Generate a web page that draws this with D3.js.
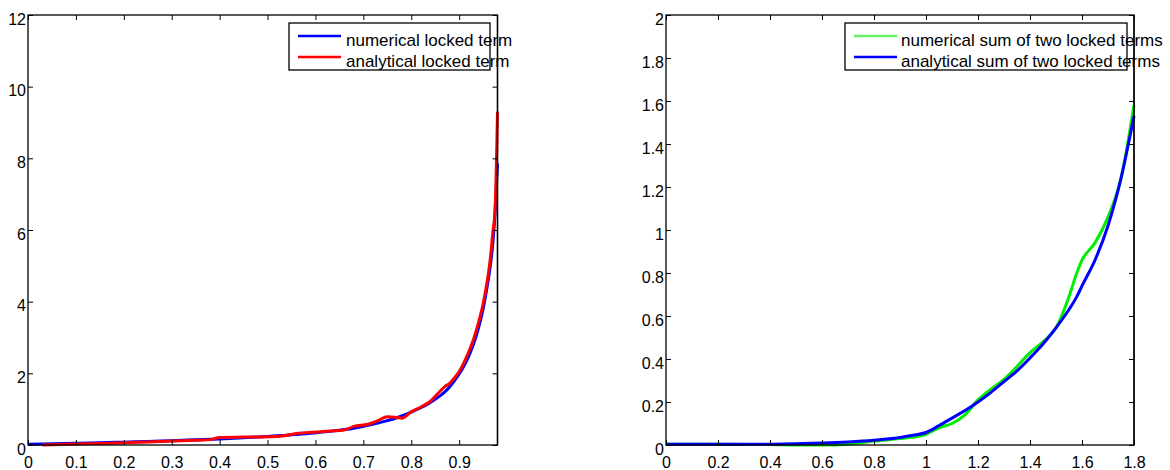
<!DOCTYPE html>
<html><head><meta charset="utf-8">
<script src="https://cdn.jsdelivr.net/npm/d3@7/dist/d3.min.js"></script>
<style>body{margin:0;background:#fff}svg{display:block}</style>
</head><body>
<svg id="c" width="1170" height="470"></svg>
<script>
// ---- data ----
const leftX = [0, 0.03, 0.1, 0.15, 0.2, 0.25, 0.3, 0.35, 0.38, 0.4, 0.45, 0.5, 0.53, 0.56, 0.6, 0.63, 0.66, 0.68, 0.71, 0.73, 0.75, 0.77, 0.78, 0.8, 0.82, 0.84, 0.86, 0.87, 0.88, 0.89, 0.9, 0.91, 0.92, 0.93, 0.94, 0.95, 0.96, 0.965, 0.97, 0.975, 0.98];
const numericalLocked = [0.02, 0.03, 0.05, 0.065, 0.08, 0.10, 0.12, 0.145, 0.16, 0.17, 0.20, 0.24, 0.265, 0.29, 0.34, 0.38, 0.43, 0.47, 0.55, 0.61, 0.68, 0.76, 0.81, 0.92, 1.04, 1.19, 1.37, 1.48, 1.62, 1.79, 1.98, 2.2, 2.48, 2.82, 3.25, 3.8, 4.55, 5.0, 5.6, 6.5, 7.86];
const analyticalLocked = [null, 0.0, 0.03, 0.045, 0.06, 0.085, 0.11, 0.13, 0.15, 0.21, 0.22, 0.23, 0.25, 0.32, 0.36, 0.39, 0.42, 0.52, 0.58, 0.68, 0.79, 0.77, 0.75, 0.93, 1.06, 1.22, 1.5, 1.63, 1.72, 1.87, 2.05, 2.3, 2.6, 2.95, 3.4, 3.94, 4.7, 5.2, 5.9, 6.6, 9.3];
const leftXTicks = [0, 0.1, 0.2, 0.3, 0.4, 0.5, 0.6, 0.7, 0.8, 0.9];
const leftYTicks = [0, 2, 4, 6, 8, 10, 12];

const rightX = [0, 0.2, 0.4, 0.5, 0.6, 0.7, 0.8, 0.9, 0.95, 1.0, 1.05, 1.1, 1.15, 1.2, 1.25, 1.3, 1.35, 1.4, 1.45, 1.5, 1.55, 1.58, 1.6, 1.65, 1.7, 1.75, 1.8];
const numericalSum = [0.003, 0.003, 0.002, 0.0, 0.0, 0.004, 0.018, 0.03, 0.037, 0.05, 0.08, 0.1, 0.14, 0.21, 0.26, 0.305, 0.365, 0.43, 0.48, 0.545, 0.69, 0.8, 0.86, 0.94, 1.06, 1.24, 1.58];
const analyticalSum = [0.003, 0.003, 0.004, 0.006, 0.009, 0.014, 0.022, 0.035, 0.045, 0.058, 0.09, 0.125, 0.16, 0.2, 0.245, 0.295, 0.345, 0.405, 0.47, 0.545, 0.63, 0.69, 0.74, 0.86, 1.02, 1.24, 1.53];
const rightXTicks = [0, 0.2, 0.4, 0.6, 0.8, 1, 1.2, 1.4, 1.6, 1.8];
const rightYTicks = [0, 0.2, 0.4, 0.6, 0.8, 1, 1.2, 1.4, 1.6, 1.8, 2];

const leftLegend = ["numerical locked term", "analytical locked term"];
const rightLegend = ["numerical sum of two locked terms", "analytical sum of two locked terms"];

const svg = d3.select("#c");
const FONT = "'Liberation Sans', Arial, Helvetica, sans-serif";
const fmt = d => String(+d.toFixed(2));

function panel(cfg) {
  const g = svg.append("g");
  const x = d3.scaleLinear().domain(cfg.xDomain).range([cfg.left, cfg.right]);
  const y = d3.scaleLinear().domain(cfg.yDomain).range([cfg.bottom, cfg.top]);
  const W = cfg.right - cfg.left, H = cfg.bottom - cfg.top;

  // series
  cfg.series.forEach(s => {
    const pts = cfg.xs.map((xv, i) => [xv, s.values[i]]);
    g.append("path")
      .datum(pts)
      .attr("fill", "none")
      .attr("stroke", s.color)
      .attr("stroke-width", 3)
      .attr("stroke-linejoin", "round")
      .attr("d", d3.line().defined(d => d[1] != null).x(d => x(d[0])).y(d => y(d[1])).curve(d3.curveMonotoneX));
  });

  // axes (matlab style: box with inward ticks on all sides)
  const axB = d3.axisBottom(x).tickValues(cfg.xTicks).tickSize(-5).tickPadding(0).tickFormat(fmt);
  const axT = d3.axisTop(x).tickValues(cfg.xTicks).tickSize(-5).tickFormat("");
  const axL = d3.axisLeft(y).tickValues(cfg.yTicks).tickSize(-5).tickPadding(0).tickFormat(fmt);
  const axR = d3.axisRight(y).tickValues(cfg.yTicks).tickSize(-5).tickFormat("");

  const gb = g.append("g").attr("transform", `translate(0,${cfg.bottom})`).call(axB);
  const gt = g.append("g").attr("transform", `translate(0,${cfg.top})`).call(axT);
  const gl = g.append("g").attr("transform", `translate(${cfg.left},0)`).call(axL);
  const gr = g.append("g").attr("transform", `translate(${cfg.right},0)`).call(axR);
  [gb, gt, gl, gr].forEach(a => {
    a.select(".domain").remove();
    a.selectAll(".tick line").attr("stroke", "#000").attr("stroke-width", 1);
    a.selectAll("text").attr("font-family", FONT).attr("font-size", 16).attr("fill", "#000");
  });
  gb.selectAll(".tick text").attr("dy", null).attr("y", 23);
  gl.selectAll(".tick text").attr("dy", null).attr("x", -2).attr("y", 9);

  g.append("rect").attr("x", cfg.left).attr("y", cfg.top).attr("width", W).attr("height", H)
    .attr("fill", "none").attr("stroke", "#000").attr("stroke-width", 1.3);

  // legend
  const L = cfg.legend;
  g.append("rect").attr("x", L.x0).attr("y", L.y0).attr("width", L.x1 - L.x0).attr("height", L.y1 - L.y0)
    .attr("fill", "#fff").attr("stroke", "#000").attr("stroke-width", 1.3);
  L.labels.forEach((t, i) => {
    const ly = L.lineY[i];
    g.append("line").attr("x1", L.lx0).attr("x2", L.lx1).attr("y1", ly).attr("y2", ly)
      .attr("stroke", L.colors[i]).attr("stroke-width", 2.5);
    g.append("text").attr("x", L.tx).attr("y", ly + 10).text(t)
      .attr("font-family", FONT).attr("font-size", 17).attr("fill", "#000");
  });
  // plot right border drawn over overflowing legend text, like the original
  g.append("line").attr("x1", cfg.right).attr("x2", cfg.right).attr("y1", cfg.top).attr("y2", cfg.bottom)
    .attr("stroke", "#000").attr("stroke-width", 1.3);
}

panel({
  left: 28, right: 497.5, top: 15, bottom: 445,
  xDomain: [0, 0.98], yDomain: [0, 12],
  xs: leftX,
  series: [
    { values: numericalLocked, color: "#0000ff" },
    { values: analyticalLocked, color: "#ff0000" }
  ],
  xTicks: leftXTicks, yTicks: leftYTicks,
  legend: { x0: 289, x1: 490, y0: 23, y1: 70, lx0: 298, lx1: 341, tx: 346, lineY: [36, 57],
            labels: leftLegend, colors: ["#0000ff", "#ff0000"] }
});

panel({
  left: 666, right: 1134, top: 15, bottom: 445,
  xDomain: [0, 1.8], yDomain: [0, 2],
  xs: rightX,
  series: [
    { values: numericalSum, color: "#00ee00" },
    { values: analyticalSum, color: "#0000ff" }
  ],
  xTicks: rightXTicks, yTicks: rightYTicks,
  legend: { x0: 845, x1: 1127, y0: 23, y1: 70, lx0: 854, lx1: 897, tx: 901, lineY: [36, 57],
            labels: rightLegend, colors: ["#66f066", "#0000ff"] }
});
</script>
</body></html>
